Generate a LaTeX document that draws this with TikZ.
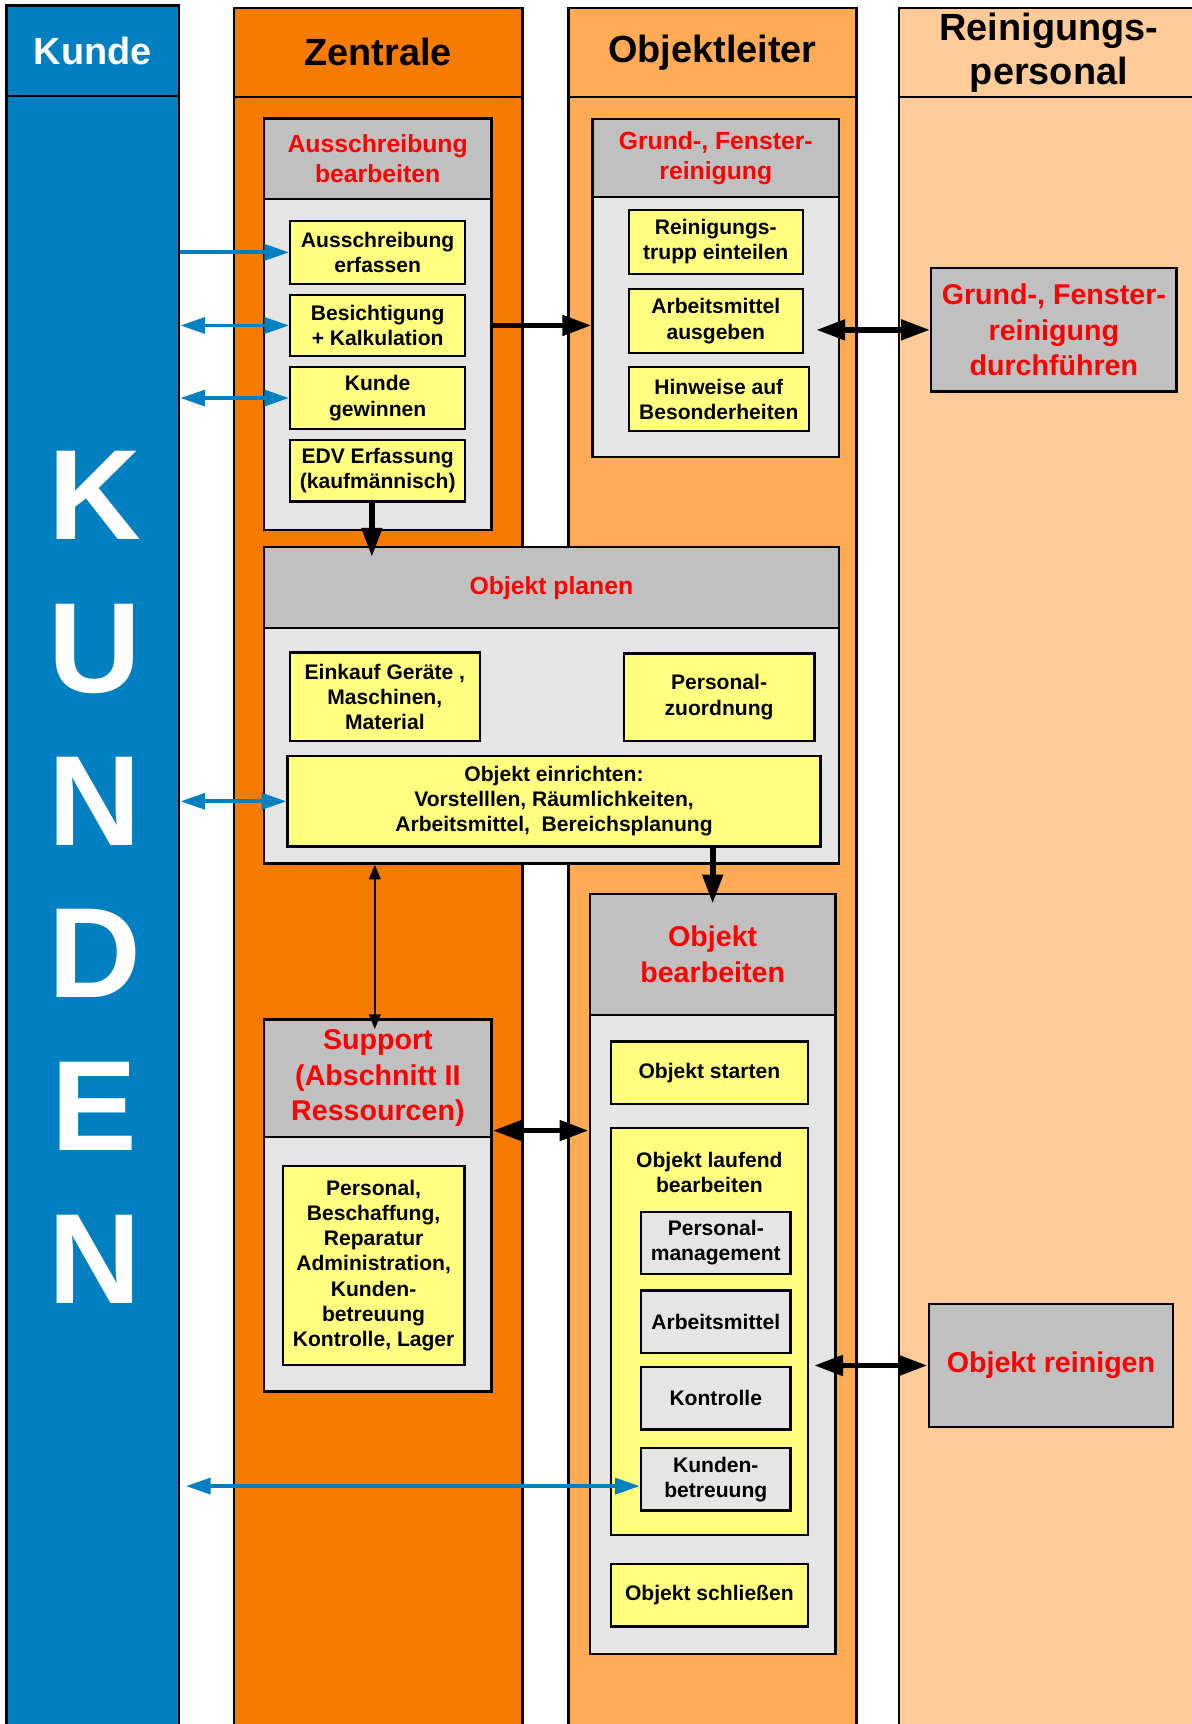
\documentclass[tikz,border=0pt]{standalone}
\usepackage{fontspec}
\setmainfont{Liberation Sans}
\usetikzlibrary{arrows.meta}
\definecolor{kundeblue}{RGB}{0,128,192}
\definecolor{zentrorange}{RGB}{245,124,0}
\definecolor{leiterorange}{RGB}{255,170,85}
\definecolor{personalpeach}{RGB}{255,204,153}
\definecolor{headgray}{RGB}{192,192,192}
\definecolor{bodygray}{RGB}{229,229,229}
\definecolor{boxyellow}{RGB}{255,255,128}

\begin{document}
\begin{tikzpicture}[x=0.01cm,y=-0.01cm,
            lane/.style={draw=black,line width=0.6pt},
            lanehead/.style={lane,align=center,font=\fontsize{9.8}{11.4}\selectfont\bfseries},
            bigletters/.style={text=white,align=center,font=\fontsize{33.2}{39.5}\selectfont\bfseries},
            grouphead/.style={draw=black,line width=0.6pt,fill=headgray,text=red,align=center,font=\fontsize{6.4}{7.8}\selectfont\bfseries},
            groupheadbig/.style={grouphead,font=\fontsize{7.4}{9.2}\selectfont\bfseries},
            groupbody/.style={draw=black,line width=0.6pt,fill=bodygray},
            task/.style={draw=black,line width=0.6pt,fill=boxyellow,align=center,font=\fontsize{5.45}{6.5}\selectfont\bfseries},
            subtask/.style={task,fill=bodygray},
            tasktext/.style={align=center,font=\fontsize{5.45}{6.5}\selectfont\bfseries},
            bluelink/.style={kundeblue,line width=1pt,-{Triangle[length=6.4pt,width=4.1pt]}},
            bluelinks/.style={kundeblue,line width=1pt,{Triangle[length=6.4pt,width=4.1pt]}-{Triangle[length=6.4pt,width=4.1pt]}},
            flow/.style={black,line width=1.5pt,line cap=round,-{Triangle[length=7.5pt,width=5.1pt]}},
            flows/.style={black,line width=1.5pt,{Triangle[length=7.5pt,width=5.1pt]}-{Triangle[length=7.5pt,width=5.1pt]}},
            thinflows/.style={black,line width=0.5pt,{Triangle[length=3.8pt,width=3pt]}-{Triangle[length=3.8pt,width=3pt]}}]
            \tikzstyle{every node}+=[inner sep=0pt]
            \useasboundingbox (0,0) rectangle (1084,1568);
            \clip (0,0) rectangle (1084,1568);
            \node [lane,fill=kundeblue,minimum width=1.57cm,minimum height=14.94cm] (kunde) at (84.5,834) {};
            \node [lane,fill=zentrorange,minimum width=2.62cm,minimum height=14.93cm] (zentrale) at (344,834.5) {};
            \node [lane,fill=leiterorange,minimum width=2.62cm,minimum height=14.93cm] (leiter) at (648,834.5) {};
            \node [lane,fill=personalpeach,minimum width=2.72cm,minimum height=14.93cm] (personal) at (954,834.5) {};
            \node [lanehead,fill=kundeblue,text=white,minimum width=1.57cm,minimum height=0.82cm] (kundeh) at (84.5,46) {Kunde};
            \node [lanehead,fill=zentrorange,minimum width=2.62cm,minimum height=0.81cm] (zentraleh) at (344,47.5) {Zentrale};
            \node [lanehead,fill=leiterorange,minimum width=2.62cm,minimum height=0.81cm] (leiterh) at (648,47.5) {Objektleiter};
            \node [lanehead,fill=personalpeach,minimum width=2.72cm,minimum height=0.81cm] (personalh) at (954,47.5) {Reinigungs-\\personal};
            \node [bigletters] (kundentext) at (86,798) {K\\U\\N\\D\\E\\N};

            \node [groupbody,minimum width=2.07cm,minimum height=3.74cm] (ausb) at (343.5,295) {};
            \node [grouphead,minimum width=2.07cm,minimum height=0.73cm] (ausbh) at (343.5,144.5) {Ausschreibung\\bearbeiten};
            \node [task,minimum width=1.59cm,minimum height=0.57cm] (aerf) at (343.5,229.5) {Ausschreibung\\erfassen};
            \node [task,minimum width=1.59cm,minimum height=0.56cm] (besi) at (343.5,296) {Besichtigung\\+ Kalkulation};
            \node [task,minimum width=1.59cm,minimum height=0.56cm] (kgew) at (343.5,362) {Kunde\\gewinnen};
            \node [task,minimum width=1.59cm,minimum height=0.56cm] (edv) at (343.5,428) {EDV Erfassung\\(kaufmännisch)};

            \node [groupbody,minimum width=2.24cm,minimum height=3.07cm] (grund) at (651,261.75) {};
            \node [grouphead,minimum width=2.24cm,minimum height=0.71cm] (grundh) at (651,143.5) {Grund-, Fenster-\\reinigung};
            \node [task,minimum width=1.58cm,minimum height=0.58cm] (rtrupp) at (651,220) {Reinigungs-\\trupp einteilen};
            \node [task,minimum width=1.58cm,minimum height=0.58cm] (aausg) at (651,292) {Arbeitsmittel\\ausgeben};
            \node [task,minimum width=1.635cm,minimum height=0.58cm] (hinw) at (653.75,363) {Hinweise auf\\Besonderheiten};
            \node [groupheadbig,minimum width=2.23cm,minimum height=1.12cm] (gdurch) at (958.5,300) {Grund-, Fenster-\\reinigung\\durchführen};

            \node [groupbody,minimum width=5.23cm,minimum height=2.874cm] (oplan) at (501.5,641.5) {};
            \node [grouphead,minimum width=5.23cm,minimum height=0.735cm] (oplanh) at (501.5,534.5) {Objekt planen};
            \node [task,minimum width=1.725cm,minimum height=0.80cm] (eink) at (350,633.6) {Einkauf Geräte ,\\Maschinen,\\Material};
            \node [task,minimum width=1.733cm,minimum height=0.794cm] (pzuo) at (654,634) {Personal-\\zuordnung};
            \node [task,minimum width=4.843cm,minimum height=0.824cm] (oeinr) at (503.9,728.8) {Objekt einrichten:\\Vorstelllen, Räumlichkeiten,\\Arbeitsmittel,~ Bereichsplanung};

            \node [groupbody,minimum width=2.066cm,minimum height=3.384cm] (sup) at (343.7,1096.4) {};
            \node [groupheadbig,minimum width=2.066cm,minimum height=1.07cm] (suph) at (343.7,980.7) {Support\\(Abschnitt II\\Ressourcen)};
            \node [task,minimum width=1.65cm,minimum height=1.805cm] (supl) at (339.8,1151) {Personal,\\Beschaffung,\\Reparatur\\Administration,\\Kunden-\\betreuung\\Kontrolle, Lager};

            \node [groupbody,minimum width=2.235cm,minimum height=6.91cm] (obear) at (648.2,1158.5) {};
            \node [groupheadbig,minimum width=2.235cm,minimum height=1.10cm] (obearh) at (648.2,868) {Objekt\\bearbeiten};
            \node [task,minimum width=1.79cm,minimum height=0.57cm] (ostart) at (645.2,975.8) {Objekt starten};
            \node [task,minimum width=1.79cm,minimum height=3.70cm] (olauf) at (645.2,1210.8) {};
            \node [tasktext] (olauft) at (645.2,1066) {Objekt laufend\\bearbeiten};
            \node [subtask,minimum width=1.36cm,minimum height=0.567cm] (pman) at (651,1130.5) {Personal-\\management};
            \node [subtask,minimum width=1.36cm,minimum height=0.567cm] (amit) at (651,1202) {Arbeitsmittel};
            \node [subtask,minimum width=1.36cm,minimum height=0.567cm] (kontr) at (651,1271.7) {Kontrolle};
            \node [subtask,minimum width=1.36cm,minimum height=0.567cm] (kbetr) at (651,1345.3) {Kunden-\\betreuung};
            \node [task,minimum width=1.79cm,minimum height=0.567cm] (oschl) at (645.2,1451) {Objekt schließen};
            \node [groupheadbig,minimum width=2.224cm,minimum height=1.12cm] (orein) at (955.9,1241.9) {Objekt reinigen};

            \draw [bluelink] (kunde.east |- aerf.west) -- (aerf.west);
            \draw [bluelinks] (kunde.east |- besi.west) -- (besi.west);
            \draw [bluelinks] (kunde.east |- kgew.west) -- (kgew.west);
            \draw [bluelinks] (kunde.east |- oeinr.west) -- (oeinr.west);
            \coordinate (kbin) at ([yshift=-1.8pt]kbetr.west);
            \draw [bluelinks,shorten <=1.4pt] (kunde.east |- kbin) -- (kbin);
            \draw [flow] (ausb.east |- besi.east) -- (grund.west |- besi.east);
            \draw [flow,shorten >=-2.8pt] ([xshift=-1.5pt]edv.south) -- ([xshift=-1.5pt]edv.south |- oplanh.north);
            \draw [flow,shorten >=-2.8pt] (obearh.north |- oeinr.south) -- (obearh.north);
            \draw [thinflows,shorten >=-2.8pt] ([xshift=-0.8pt]suph.north |- oplan.south) -- ([xshift=-0.8pt]suph.north);
            \coordinate (supr) at ([yshift=2pt]suph.south east);
            \draw [flows] (supr) -- (supr -| obear.west);
            \draw [flows,shorten <=3.2pt] (gdurch.west -| aausg.east) -- (gdurch.west);
            \draw [flows,shorten <=1.3pt] (orein.west -| olauf.east) -- (orein.west);
            \end{tikzpicture}
\end{document}
